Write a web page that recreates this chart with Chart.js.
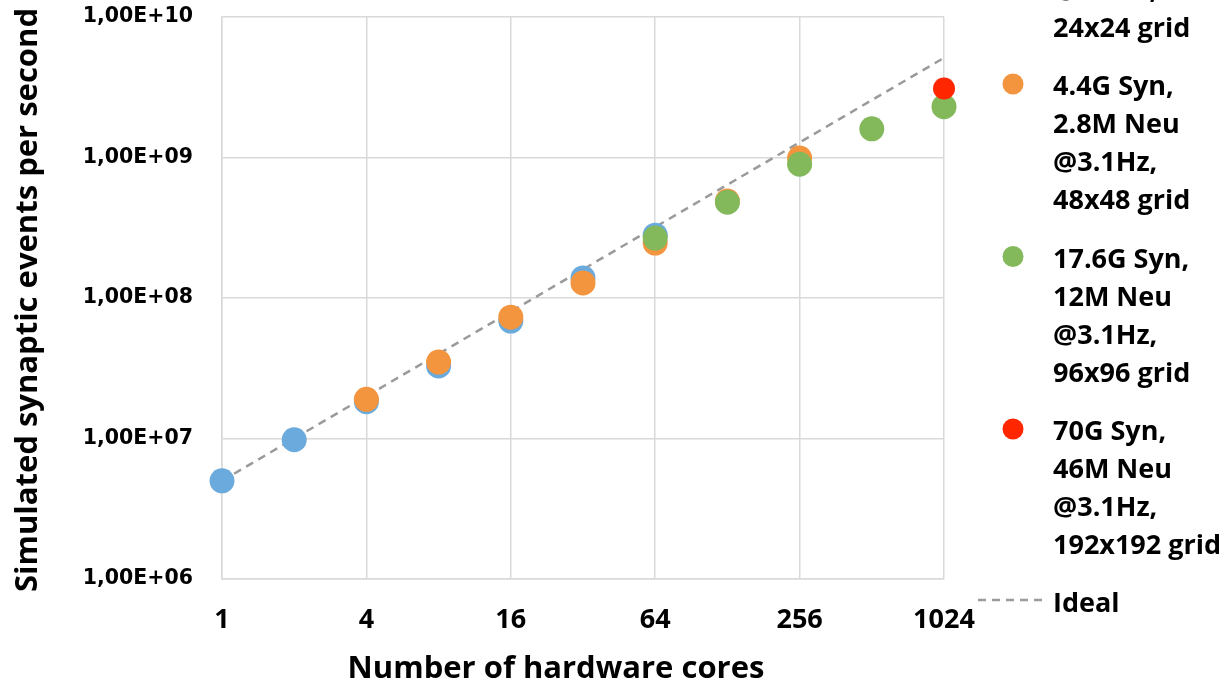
<!DOCTYPE html>
<html>
<head>
<meta charset="utf-8">
<script src="https://cdn.jsdelivr.net/npm/chart.js@4/dist/chart.umd.min.js"></script>
<style>
  html, body { margin: 0; padding: 0; background: #fff; }
  #wrap { width: 1225px; height: 700px; }
</style>
</head>
<body>
<div id="wrap"><canvas id="scaling" width="1225" height="700"></canvas></div>
<script>
// Cores (x) and synaptic events per second (y) per network size
const blueX = [1, 2, 4, 8, 16, 32, 64];
const blueY = [5.0e6, 9.8e6, 1.83e7, 3.28e7, 6.85e7, 1.39e8, 2.8e8];
const orangeX = [4, 8, 16, 32, 64, 128, 256];
const orangeY = [1.9e7, 3.5e7, 7.3e7, 1.28e8, 2.46e8, 4.9e8, 9.9e8];
const greenX = [64, 128, 256, 512, 1024];
const greenY = [2.67e8, 4.8e8, 8.95e8, 1.6e9, 2.3e9];
const redX = [1024];
const redY = [3.1e9];
const idealX = [1, 1024];
const idealY = [5.0e6, 5.12e9];

const xTicks = [1, 4, 16, 64, 256, 1024];
const xTickLabels = ['1', '4', '16', '64', '256', '1024'];
const yTicks = [1e6, 1e7, 1e8, 1e9, 1e10];
const yTickLabels = ['1,00E+06', '1,00E+07', '1,00E+08', '1,00E+09', '1,00E+10'];

const blueLabel = ['1.1G Syn,', '0.7M Neu', '@3.1Hz,', '24x24 grid'];
const orangeLabel = ['4.4G Syn,', '2.8M Neu', '@3.1Hz,', '48x48 grid'];
const greenLabel = ['17.6G Syn,', '12M Neu', '@3.1Hz,', '96x96 grid'];
const redLabel = ['70G Syn,', '46M Neu', '@3.1Hz,', '192x192 grid'];
const idealLabel = 'Ideal';

const xTitle = 'Number of hardware cores';
const yTitle = 'Simulated synaptic events per second';

const colors = {
    blue: '#6aaadd',
    orange: '#f3953f',
    green: '#83b95b',
    red: '#ff2600',
    ideal: '#9a9a9a',
    grid: '#d9d9d9',
    text: '#000'
};

const toPoints = (xs, ys) => xs.map((x, i) => ({ x: x, y: ys[i] }));

// axis titles and the right-hand legend
const decorations = {
    id: 'decorations',
    afterDraw(chart) {
        const ctx = chart.ctx;
        ctx.save();
        ctx.fillStyle = colors.text;
        ctx.font = 'bold 31px "Open Sans"';
        ctx.textAlign = 'center';
        ctx.textBaseline = 'alphabetic';
        ctx.fillText(xTitle, 556, 678);

        ctx.save();
        ctx.translate(37, 300);
        ctx.rotate(-Math.PI / 2);
        ctx.font = 'bold 31px "Open Sans"';
        ctx.fillText(yTitle, 0, 0);
        ctx.restore();

        // legend
        const markerX = 1013, textX = 1053, lineGap = 38;
        const entries = chart.data.datasets.filter(d => d.legendY !== undefined);
        ctx.font = 'bold 27px "Open Sans"';
        ctx.textAlign = 'left';
        entries.forEach(d => {
            const y0 = d.legendY;
            if (d.type === 'line') {
                ctx.strokeStyle = d.borderColor;
                ctx.lineWidth = d.borderWidth;
                ctx.setLineDash(d.borderDash);
                ctx.beginPath();
                ctx.moveTo(978, y0 - 2);
                ctx.lineTo(1045, y0 - 2);
                ctx.stroke();
                ctx.setLineDash([]);
            } else {
                ctx.fillStyle = d.backgroundColor;
                ctx.beginPath();
                ctx.arc(markerX, y0 - 1, 10.5, 0, Math.PI * 2);
                ctx.fill();
            }
            ctx.fillStyle = colors.text;
            const lines = Array.isArray(d.label) ? d.label : [d.label];
            lines.forEach((line, i) => {
                ctx.fillText(line, textX, y0 + 10 + i * lineGap);
            });
        });
        ctx.restore();
    }
};

const ctx = document.getElementById('scaling').getContext('2d');
new Chart(ctx, {
    type: 'scatter',
    data: {
        datasets: [
            {
                label: blueLabel, data: toPoints(blueX, blueY),
                backgroundColor: colors.blue, borderWidth: 0,
                pointRadius: 12.5, order: 4, clip: false, legendY: -87
            },
            {
                label: orangeLabel, data: toPoints(orangeX, orangeY),
                backgroundColor: colors.orange, borderWidth: 0,
                pointRadius: 12.5, order: 3, clip: false, legendY: 85
            },
            {
                label: greenLabel, data: toPoints(greenX, greenY),
                backgroundColor: colors.green, borderWidth: 0,
                pointRadius: 12.5, order: 2, clip: false, legendY: 257.5
            },
            {
                label: redLabel, data: toPoints(redX, redY),
                backgroundColor: colors.red, borderWidth: 0,
                pointRadius: 11, order: 1, clip: false, legendY: 430
            },
            {
                type: 'line', label: idealLabel, data: toPoints(idealX, idealY),
                borderColor: colors.ideal, borderWidth: 2.5, borderDash: [8, 6],
                pointRadius: 0, fill: false, order: 5, clip: false, legendY: 602
            }
        ]
    },
    options: {
        responsive: false,
        animation: false,
        layout: { padding: { top: 17, right: 281, bottom: 0, left: 0 } },
        plugins: {
            legend: { display: false },
            tooltip: { enabled: false }
        },
        scales: {
            x: {
                type: 'logarithmic',
                min: 1,
                max: 1024,
                afterBuildTicks: s => { s.ticks = xTicks.map(v => ({ value: v })); },
                afterFit: s => { s.height = 121; s.paddingLeft = 0; s.paddingRight = 0; },
                grid: { color: colors.grid, lineWidth: 1.5, drawTicks: false },
                border: { color: colors.grid, width: 1.5 },
                ticks: {
                    autoSkip: false,
                    maxRotation: 0,
                    padding: 25,
                    color: colors.text,
                    font: { family: '"Open Sans"', size: 27, weight: 'bold' },
                    callback: (v, i) => xTickLabels[i]
                }
            },
            y: {
                type: 'logarithmic',
                min: 1e6,
                max: 1e10,
                afterBuildTicks: s => { s.ticks = yTicks.map(v => ({ value: v })); },
                afterFit: s => { s.width = 222; s.paddingTop = 0; s.paddingBottom = 0; },
                grid: { color: colors.grid, lineWidth: 1.5, drawTicks: false },
                border: { color: colors.grid, width: 1.5 },
                ticks: {
                    autoSkip: false,
                    padding: 29,
                    color: colors.text,
                    font: { family: '"DejaVu Sans"', size: 20.5, weight: 'bold' },
                    callback: (v, i) => yTickLabels[i]
                }
            }
        }
    },
    plugins: [decorations]
});
</script>
</body>
</html>
